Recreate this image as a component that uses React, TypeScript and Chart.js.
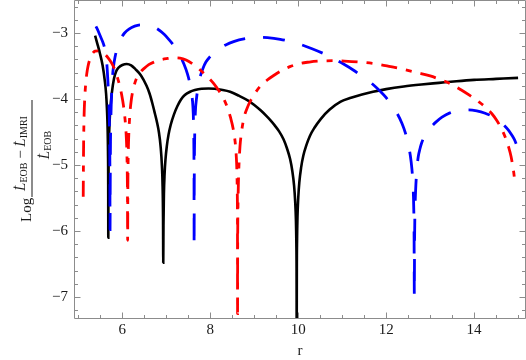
import React, { useEffect, useRef } from "react";
import { Chart, registerables } from "chart.js";

Chart.register(...registerables);

// ---- data ----
const blackR = [5.38, 5.43, 5.49, 5.55, 5.60, 5.63, 5.65, 5.665, 5.673, 5.678, 5.68, 5.682, 5.687, 5.695, 5.71, 5.73, 5.76, 5.81, 5.86, 5.92, 6.0, 6.1, 6.2, 6.3, 6.42, 6.55, 6.62, 6.68, 6.74, 6.79, 6.83, 6.87, 6.90, 6.915, 6.925, 6.93, 6.935, 6.945, 6.96, 6.98, 7.01, 7.05, 7.10, 7.17, 7.25, 7.33, 7.42, 7.54, 7.65, 7.8, 7.96, 8.1, 8.25, 8.45, 8.65, 8.85, 9.0, 9.15, 9.28, 9.365, 9.465, 9.565, 9.665, 9.745, 9.815, 9.865, 9.905, 9.93, 9.947, 9.957, 9.962, 9.965, 9.968, 9.973, 9.983, 10.0, 10.025, 10.065, 10.115, 10.185, 10.265, 10.365, 10.515, 10.715, 10.965, 11.2, 11.45, 11.7, 12.0, 12.4, 12.8, 13.2, 13.6, 14.0, 14.5, 15.0];
const blackLog = [-3.04, -3.16, -3.31, -3.49, -3.72, -3.92, -4.16, -4.46, -4.8, -5.3, -6.1, -5.5, -4.97, -4.64, -4.34, -4.12, -3.91, -3.69, -3.58, -3.52, -3.485, -3.47, -3.49, -3.55, -3.64, -3.8, -3.92, -4.06, -4.22, -4.36, -4.5, -4.72, -5.02, -5.32, -5.8, -6.48, -5.92, -5.44, -5.14, -4.92, -4.72, -4.54, -4.39, -4.24, -4.11, -4.01, -3.94, -3.89, -3.865, -3.845, -3.84, -3.845, -3.86, -3.89, -3.95, -4.02, -4.09, -4.175, -4.26, -4.32, -4.4, -4.49, -4.61, -4.75, -4.91, -5.09, -5.31, -5.55, -5.83, -6.19, -6.61, -7.6, -6.56, -6.14, -5.78, -5.5, -5.26, -5.04, -4.86, -4.70, -4.56, -4.44, -4.30, -4.16, -4.04, -3.98, -3.93, -3.89, -3.85, -3.81, -3.78, -3.755, -3.73, -3.71, -3.695, -3.68];

const blueR = [5.40, 5.45, 5.50, 5.55, 5.59, 5.62, 5.645, 5.665, 5.685, 5.70, 5.71, 5.716, 5.72, 5.724, 5.73, 5.74, 5.755, 5.775, 5.80, 5.835, 5.87, 5.92, 5.98, 6.05, 6.15, 6.28, 6.42, 6.53, 6.65, 6.8, 6.95, 7.06, 7.18, 7.3, 7.4, 7.48, 7.54, 7.58, 7.605, 7.618, 7.626, 7.63, 7.632, 7.635, 7.64, 7.648, 7.66, 7.69, 7.73, 7.78, 7.83, 7.9, 7.98, 8.07, 8.2, 8.35, 8.53, 8.8, 9.06, 9.3, 9.59, 9.85, 10.08, 10.3, 10.57, 10.8, 11.03, 11.25, 11.48, 11.7, 11.86, 12.0, 12.12, 12.25, 12.36, 12.44, 12.5, 12.55, 12.585, 12.61, 12.625, 12.635, 12.64, 12.645, 12.655, 12.67, 12.69, 12.71, 12.73, 12.77, 12.81, 12.88, 12.95, 13.0, 13.13, 13.27, 13.45, 13.68, 13.87, 14.06, 14.25, 14.44, 14.58, 14.67, 14.78, 14.86, 14.92, 14.97];
const blueLog = [-2.90, -2.97, -3.05, -3.13, -3.21, -3.3, -3.45, -3.66, -3.92, -4.2, -4.55, -5.0, -5.98, -5.3, -4.65, -4.25, -3.93, -3.67, -3.5, -3.36, -3.26, -3.15, -3.07, -3.0, -2.94, -2.895, -2.875, -2.875, -2.89, -2.94, -3.02, -3.1, -3.2, -3.33, -3.47, -3.62, -3.78, -3.94, -4.12, -4.35, -4.7, -5.2, -6.24, -5.3, -4.8, -4.45, -4.2, -3.97, -3.78, -3.64, -3.54, -3.44, -3.37, -3.31, -3.24, -3.18, -3.13, -3.085, -3.065, -3.07, -3.095, -3.135, -3.18, -3.235, -3.31, -3.385, -3.47, -3.56, -3.67, -3.78, -3.88, -3.98, -4.09, -4.22, -4.37, -4.52, -4.68, -4.86, -5.06, -5.3, -5.6, -6.1, -6.99, -6.2, -5.7, -5.38, -5.14, -4.98, -4.87, -4.75, -4.66, -4.55, -4.48, -4.44, -4.35, -4.275, -4.21, -4.17, -4.165, -4.18, -4.215, -4.27, -4.33, -4.39, -4.47, -4.55, -4.62, -4.70];

const redR = [5.11, 5.115, 5.12, 5.13, 5.145, 5.165, 5.19, 5.22, 5.26, 5.31, 5.38, 5.45, 5.52, 5.6, 5.68, 5.76, 5.83, 5.89, 5.94, 5.985, 6.025, 6.06, 6.085, 6.1, 6.11, 6.116, 6.12, 6.124, 6.13, 6.14, 6.155, 6.175, 6.2, 6.23, 6.27, 6.32, 6.4, 6.49, 6.6, 6.72, 6.85, 7.0, 7.18, 7.31, 7.45, 7.6, 7.77, 7.93, 8.07, 8.2, 8.3, 8.39, 8.46, 8.52, 8.565, 8.59, 8.605, 8.613, 8.618, 8.62, 8.622, 8.628, 8.638, 8.652, 8.675, 8.71, 8.76, 8.83, 8.92, 9.02, 9.13, 9.28, 9.45, 9.62, 9.81, 10.04, 10.25, 10.5, 10.8, 11.05, 11.4, 11.79, 12.1, 12.39, 12.7, 13.0, 13.25, 13.45, 13.7, 13.91, 14.1, 14.25, 14.4, 14.52, 14.63, 14.72, 14.79, 14.84, 14.88, 14.91, 14.93];
const redLog = [-5.48, -4.95, -4.6, -4.24, -3.98, -3.78, -3.62, -3.5, -3.4, -3.32, -3.275, -3.27, -3.285, -3.32, -3.38, -3.46, -3.56, -3.68, -3.8, -3.94, -4.1, -4.3, -4.52, -4.75, -5.05, -5.4, -6.14, -5.4, -4.98, -4.66, -4.4, -4.19, -4.03, -3.9, -3.79, -3.69, -3.6, -3.54, -3.48, -3.44, -3.41, -3.39, -3.375, -3.38, -3.41, -3.47, -3.56, -3.66, -3.76, -3.88, -3.99, -4.13, -4.28, -4.45, -4.65, -4.86, -5.1, -5.4, -5.9, -7.25, -6.3, -5.7, -5.3, -5.0, -4.72, -4.5, -4.3, -4.15, -4.02, -3.91, -3.81, -3.72, -3.64, -3.57, -3.51, -3.46, -3.44, -3.425, -3.42, -3.425, -3.44, -3.47, -3.51, -3.55, -3.6, -3.65, -3.71, -3.765, -3.86, -3.95, -4.04, -4.12, -4.22, -4.33, -4.46, -4.6, -4.74, -4.87, -5.02, -5.16, -5.30];

const rTickLabels = [6, 8, 10, 12, 14];
const logTickLabels = [-7, -6, -5, -4, -3];

// ---- styling ----
const SERIF = '"Liberation Serif", "Times New Roman", serif';
const FRAME = "#8c8c8c";
const TEXT = "#1a1a1a";

function pts(xs: number[], ys: number[]) {
  return xs.map((x, i) => ({ x, y: ys[i] }));
}

const framePlugin = {
  id: "mmaFrame",
  afterDatasetsDraw(chart: any) {
    const { ctx, chartArea: a, scales } = chart;
    const sx = scales.x;
    const sy = scales.y;
    const L = a.left + 0.5;
    const R = a.right - 0.5;
    const T = a.top + 0.5;
    const B = a.bottom + 0.5;
    ctx.save();
    ctx.strokeStyle = FRAME;
    ctx.lineWidth = 1;
    ctx.setLineDash([]);
    ctx.beginPath();
    ctx.moveTo(L, T);
    ctx.lineTo(R, T);
    ctx.lineTo(R, B);
    ctx.lineTo(L, B);
    ctx.closePath();
    const major = 6;
    const minor = 3.5;
    for (let k = 10; k <= 30; k++) {
      const v = k / 2;
      const len = rTickLabels.includes(v) ? major : minor;
      const p = Math.round(sx.getPixelForValue(v)) + 0.5;
      if (p < L || p > R) continue;
      ctx.moveTo(p, B);
      ctx.lineTo(p, B - len);
      ctx.moveTo(p, T);
      ctx.lineTo(p, T + len);
    }
    for (let k = -36; k <= -13; k++) {
      const v = k / 5;
      const len = logTickLabels.includes(v) ? major : minor;
      const p = Math.round(sy.getPixelForValue(v)) + 0.5;
      if (p < T || p > B) continue;
      ctx.moveTo(L, p);
      ctx.lineTo(L + len, p);
      ctx.moveTo(R, p);
      ctx.lineTo(R - len, p);
    }
    ctx.stroke();
    ctx.restore();
  },
};

type Piece = { t: string; f: string; dy: number };

function drawPieces(ctx: CanvasRenderingContext2D, pieces: Piece[], centerX: number, baseY: number) {
  let total = 0;
  const widths = pieces.map((p) => {
    ctx.font = p.f;
    const w = ctx.measureText(p.t).width;
    total += w;
    return w;
  });
  let x = centerX - total / 2;
  pieces.forEach((p, i) => {
    ctx.font = p.f;
    ctx.fillText(p.t, x, baseY + p.dy);
    x += widths[i];
  });
}

const yTitlePlugin = {
  id: "yTitleFraction",
  afterDraw(chart: any) {
    const ctx: CanvasRenderingContext2D = chart.ctx;
    const big = `15px ${SERIF}`;
    const bigI = `italic 15px ${SERIF}`;
    const small = `10px ${SERIF}`;
    ctx.save();
    ctx.rotate(-Math.PI / 2);
    ctx.fillStyle = TEXT;
    ctx.textAlign = "left";
    ctx.textBaseline = "alphabetic";
    ctx.font = big;
    ctx.fillText("Log", -222, 31);
    ctx.fillRect(-197, 31.5, 97, 1);
    drawPieces(
      ctx,
      [
        { t: "L\u0307", f: bigI, dy: 0 },
        { t: "EOB", f: small, dy: 2 },
        { t: " \u2212 ", f: big, dy: 0 },
        { t: "L\u0307", f: bigI, dy: 0 },
        { t: "IMRI", f: small, dy: 2 },
      ],
      -153.5,
      25
    );
    drawPieces(
      ctx,
      [
        { t: "L\u0307", f: bigI, dy: 0 },
        { t: "EOB", f: small, dy: 2 },
      ],
      -145,
      49
    );
    ctx.restore();
  },
};

export default function App() {
  const ref = useRef<HTMLCanvasElement | null>(null);

  useEffect(() => {
    const canvas = ref.current;
    if (!canvas) return;
    const tickFont = { family: SERIF, size: 15 };
    const chart = new Chart(canvas, {
      type: "line",
      data: {
        datasets: [
          {
            label: "black",
            data: pts(blackR, blackLog),
            borderColor: "#000000",
            borderWidth: 2.6,
            pointRadius: 0,
            fill: false,
            order: 3,
            cubicInterpolationMode: "monotone",
          },
          {
            label: "blue",
            data: pts(blueR, blueLog),
            borderColor: "#0000ff",
            borderWidth: 2.8,
            borderDash: [22, 18],
            pointRadius: 0,
            fill: false,
            order: 2,
            cubicInterpolationMode: "monotone",
          },
          {
            label: "red",
            data: pts(redR, redLog),
            borderColor: "#ff0000",
            borderWidth: 2.8,
            borderDash: [16, 9, 6, 9],
            pointRadius: 0,
            fill: false,
            order: 1,
            cubicInterpolationMode: "monotone",
          },
        ],
      } as any,
      options: {
        animation: false,
        responsive: false,
        devicePixelRatio: 1,
        layout: { padding: 0 },
        plugins: { legend: { display: false }, tooltip: { enabled: false } },
        scales: {
          x: {
            type: "linear",
            min: 4.9,
            max: 15.18,
            grid: { display: false, drawTicks: false },
            border: { display: false },
            ticks: {
              font: tickFont,
              color: TEXT,
              padding: 3,
              autoSkip: false,
              maxRotation: 0,
              callback: (v: any) => String(v),
            },
            title: {
              display: true,
              text: "r",
              font: { family: SERIF, size: 15 },
              color: TEXT,
              padding: { top: 0, bottom: 0 },
            },
            afterBuildTicks: (s: any) => {
              s.ticks = rTickLabels.map((v) => ({ value: v }));
            },
            afterFit: (s: any) => {
              s.height = 42;
              s.paddingLeft = 0;
              s.paddingRight = 0;
            },
          },
          y: {
            type: "linear",
            min: -7.318,
            max: -2.5,
            grid: { display: false, drawTicks: false },
            border: { display: false },
            ticks: {
              font: tickFont,
              color: TEXT,
              padding: 6,
              autoSkip: false,
              callback: (v: any) => (v < 0 ? "\u2212" + Math.abs(v) : String(v)),
            },
            afterBuildTicks: (s: any) => {
              s.ticks = logTickLabels.map((v) => ({ value: v }));
            },
            afterFit: (s: any) => {
              s.width = 74;
              s.paddingTop = 0;
              s.paddingBottom = 0;
            },
          },
        },
      } as any,
      plugins: [framePlugin, yTitlePlugin],
    });
    return () => chart.destroy();
  }, []);

  return (
    <div style={{ position: "absolute", left: 0, top: 0, width: 526, height: 360, background: "#ffffff" }}>
      <canvas ref={ref} width={526} height={360} style={{ display: "block" }} />
    </div>
  );
}
